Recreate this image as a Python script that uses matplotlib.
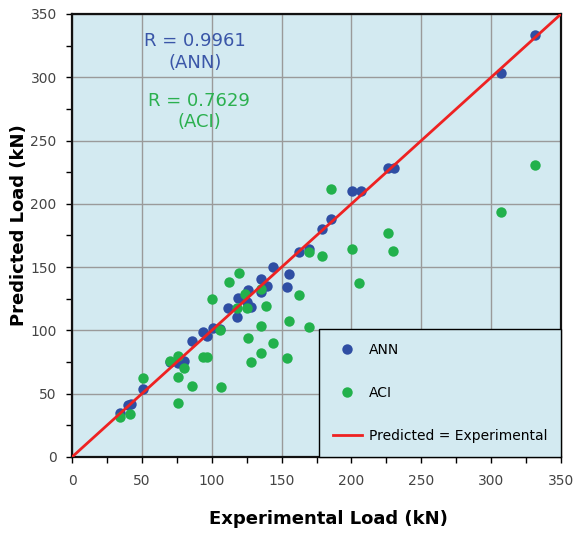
import numpy as np
import matplotlib.pyplot as plt
from matplotlib.ticker import MultipleLocator

# experimental vs predicted load (kN)
ann_exp = [34.4, 40.3, 42.0, 51.0, 70.2, 76.1, 80.2, 85.7, 93.5, 96.4, 100.6, 106.0,
           111.4, 117.8, 119.0, 125.0, 126.2, 127.9, 135.3, 139.3, 135.3, 143.6,
           155.3, 153.7, 162.7, 169.9, 178.7, 185.4, 200.2, 206.7, 226.4, 230.5,
           307.1, 331.4]
ann_pred = [35.0, 41.1, 41.9, 53.5, 75.3, 74.0, 75.8, 91.9, 98.5, 95.6, 101.6, 101.1,
            118.0, 110.3, 125.4, 122.7, 131.9, 118.2, 140.3, 135.3, 130.6, 149.8,
            144.5, 134.5, 162.2, 164.0, 180.3, 187.8, 209.9, 209.9, 228.0, 228.0,
            303.0, 333.3]

aci_exp = [34.4, 41.5, 51.0, 70.2, 75.6, 80.4, 75.6, 75.6, 85.7, 93.5, 96.4, 106.4,
           106.0, 100.5, 112.0, 119.8, 123.8, 117.8, 125.5, 135.3, 138.9, 126.2,
           127.9, 135.3, 135.3, 143.6, 153.7, 155.3, 162.5, 169.9, 169.9, 178.7,
           185.4, 200.2, 205.5, 226.4, 230.0, 307.1, 331.4]
aci_pred = [31.8, 33.7, 62.1, 75.8, 79.8, 70.0, 63.4, 42.9, 56.1, 79.2, 79.2, 55.0,
            100.3, 124.8, 138.5, 145.6, 128.7, 118.0, 117.4, 132.4, 119.5, 93.7,
            74.8, 103.7, 82.4, 89.8, 78.5, 107.4, 128.0, 162.2, 102.9, 158.8,
            211.7, 164.0, 137.7, 177.2, 162.7, 193.3, 230.9]

ann_r = 0.9961
aci_r = 0.7629

c_ann = '#2f4ea3'
c_aci = '#22b14c'
c_line = '#ee2222'

fig = plt.figure(figsize=(5.73, 5.36), dpi=100)
ax = fig.add_axes([0.1257, 0.1474, 0.8534, 0.8265])
ax.set_facecolor('#d3eaf1')

ax.plot(ann_exp, ann_pred, 'o', ms=7.5, color=c_ann, mec='none', label='ANN', zorder=3)
ax.plot(aci_exp, aci_pred, 'o', ms=7.5, color=c_aci, mec='none', label='ACI', zorder=3)
ax.plot([0, 350], [0, 350], color=c_line, lw=2, label='Predicted = Experimental', zorder=4)

ax.set_xlim(0, 350)
ax.set_ylim(0, 350)
ax.xaxis.set_major_locator(MultipleLocator(50))
ax.yaxis.set_major_locator(MultipleLocator(50))
ax.xaxis.set_minor_locator(MultipleLocator(25))
ax.yaxis.set_minor_locator(MultipleLocator(25))
ax.grid(True, which='major', color='#9a9a9a', lw=1, zorder=0)
ax.set_axisbelow(True)
ax.tick_params(which='both', direction='out', length=4, width=1, colors='black',
               labelcolor='#444444', labelsize=10)
ax.tick_params(axis='x', pad=8)
ax.tick_params(axis='y', pad=7)
for s in ax.spines.values():
    s.set_linewidth(1.6)
    s.set_color('#111111')

ax.set_xlabel('Experimental Load (kN)', fontsize=13, fontweight='bold')
ax.set_ylabel('Predicted Load (kN)', fontsize=13, fontweight='bold')
ax.xaxis.set_label_coords(0.525, -0.12)
ax.yaxis.set_label_coords(-0.09, 0.523)

ax.text(88, 320, f'R = {ann_r}\n(ANN)', color='#3a56a8', fontsize=13,
        ha='center', va='center', linespacing=1.25)
ax.text(91, 273, f'R = {aci_r}\n(ACI)', color='#2bb04f', fontsize=13,
        ha='center', va='center', linespacing=1.25)

leg = ax.legend(loc='lower right', bbox_to_anchor=(1.0, 0.0), frameon=True,
                fancybox=False, fontsize=10, labelspacing=2.1, borderpad=1.0,
                handlelength=2.1, handletextpad=0.5, borderaxespad=0)
leg.get_frame().set_edgecolor('black')
leg.get_frame().set_facecolor('#d3eaf1')
leg.get_frame().set_alpha(1)
leg.get_frame().set_linewidth(1)

fig.savefig('out.png', dpi=100)
